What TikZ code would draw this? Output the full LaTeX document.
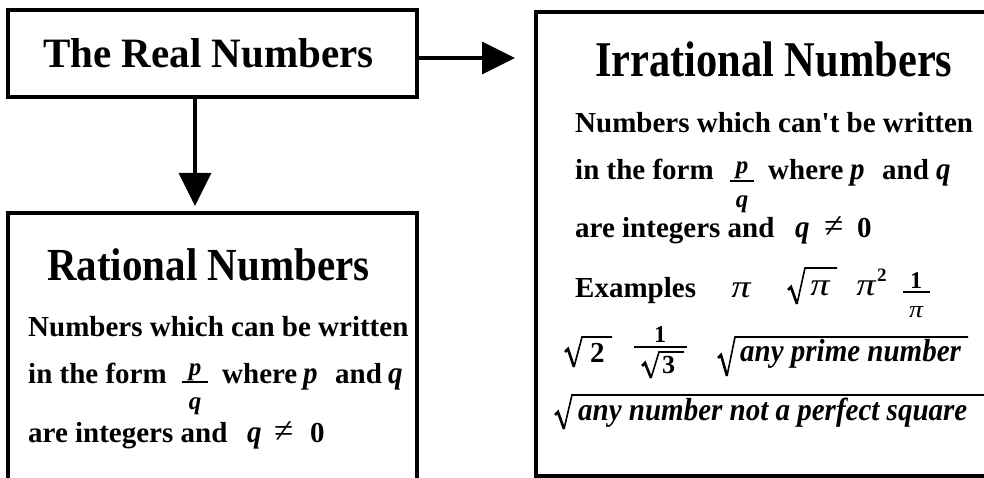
\documentclass[tikz,border=0pt]{standalone}
\usepackage{fontspec}
\setmainfont{Liberation Serif}
\usetikzlibrary{arrows.meta}
\newcommand\rootsign[5]{%
  \draw[rad] (#1,#2) -- ++(3,-3) -- (#1+9,#3);
  \draw[rad, line width=1.6pt] (#1+9,#3) -- (#1+17,#4) -- (#5,#4);}
\begin{document}
\begin{tikzpicture}[x=1pt,y=-1pt,
  box/.style={draw, line width=3.5pt, inner sep=0pt, outer sep=0pt},
  arr/.style={line width=3.5pt, -{Triangle[length=33pt,width=32pt]}},
  ttl/.style={anchor=base west, inner sep=0pt, font=\fontsize{41}{49}\selectfont\bfseries},
  txt/.style={anchor=base west, inner sep=0pt, font=\fontsize{29}{35}\selectfont\bfseries},
  itx/.style={anchor=base west, inner sep=0pt, yscale=1.08, font=\fontsize{29}{35}\selectfont\bfseries\itshape},
  tall/.style={anchor=base west, inner sep=0pt, yscale=1.1, font=\fontsize{29}{35}\selectfont\bfseries\itshape},
  fr/.style={anchor=base, inner sep=0pt, font=\fontsize{25}{30}\selectfont\bfseries\itshape},
  num/.style={anchor=base, inner sep=0pt, font=\fontsize{24}{30}\selectfont\bfseries},
  neq/.style={anchor=base west, inner sep=0pt, font=\fontsize{35}{40}\selectfont},
  pisym/.style={anchor=base west, inner sep=0pt, xscale=1.2, font=\fontsize{32}{36}\selectfont\itshape},
  fbar/.style={line width=2pt},
  rad/.style={line width=2.6pt, line join=miter}]
\useasboundingbox (0,0) rectangle (984,478);

% boxes
\node[box, minimum width=409pt, minimum height=87pt] (real) at (212.5,53.5) {};
\node[box, minimum width=409pt, minimum height=287pt] (rat) at (212.5,356.5) {};
\node[box, minimum width=459pt, minimum height=464pt] (irr) at (765.5,244) {};

% connectors
\draw[arr, shorten >=7pt] ([xshift=-17.5pt]real.south) -- ([xshift=-17.5pt]rat.north);
\draw[arr, shorten >=21pt] ([yshift=-4.5pt]real.east) -- ([yshift=-4.5pt]real.east -| irr.west);

% top title
\node[ttl, yscale=1.02] (realt) at (43,68) {The Real Numbers};

% rational box
\node[ttl, yscale=1.12] (ratt) at (47,280) {Rational Numbers};
\node[txt] (r1) at (28,336) {Numbers which can be written};
\node[txt] (r2) at (28,383) {in the form};
\node[fr] (rp) at (195,375) {p};
\draw[fbar] (182,382) -- (208,382);
\node[fr] (rq) at (195,409) {q};
\node[txt] (r2w) at (222,383) {where};
\node[itx] (r2p) at (303,383) {p};
\node[txt] (r2a) at (335,383) {and};
\node[itx] (r2q) at (388,383) {q};
\node[txt] (r3) at (28,442) {are integers and};
\node[itx] (r3q) at (247,442) {q};
\node[neq] (r3n) at (274,442) {≠};
\node[txt] (r3z) at (310,442) {0};

% irrational box
\node[ttl, xscale=1.035, yscale=1.22] (irrt) at (595,77) {Irrational Numbers};
\node[txt] (i1) at (575,133) {Numbers which can\textquotesingle t be written};
\node[txt] (i2) at (575,180) {in the form};
\node[fr] (ip) at (742,174) {p};
\draw[fbar] (730,181) -- (754,181);
\node[fr] (iq) at (742,208) {q};
\node[txt] (i2w) at (768,180) {where};
\node[itx] (i2p) at (850,180) {p};
\node[txt] (i2a) at (882,180) {and};
\node[itx] (i2q) at (936,180) {q};
\node[txt] (i3) at (575,237) {are integers and};
\node[itx] (i3q) at (795,237) {q};
\node[neq] (i3n) at (824,237) {≠};
\node[txt] (i3z) at (857,237) {0};

% examples
\node[txt] (ex) at (575,297) {Examples};
\node[pisym] (pi1) at (731,297) {π};
\rootsign{788}{290}{304}{268}{837}
\node[pisym] (pi2) at (810,295) {π};
\node[pisym] (pi3) at (856,295) {π};
\node[anchor=base west, inner sep=0pt, font=\fontsize{19}{22}\selectfont\bfseries] (sq) at (877,281) {2};
\node[num] (one1) at (916,288) {1};
\draw[fbar] (903,292) -- (930,292);
\node[anchor=base, inner sep=0pt, xscale=1.15, font=\fontsize{24}{28}\selectfont\itshape] (pi4) at (916,317) {π};

% second row
\rootsign{565}{352}{367}{337}{612}
\node[txt] (two) at (590,362) {2};
\node[num] (one2) at (660,342) {1};
\draw[fbar] (634,347) -- (687,347);
\rootsign{642}{366}{378}{352}{684}
\node[anchor=base west, inner sep=0pt, font=\fontsize{26}{30}\selectfont\bfseries] (three) at (662,373) {3};
\rootsign{718}{358}{376}{337}{968}
\node[tall] (prime) at (740,361) {any prime number};

% third row
\rootsign{555}{415}{429}{395}{990}
\node[tall] (perf) at (578,420) {any number not a perfect square};
\end{tikzpicture}
\end{document}
